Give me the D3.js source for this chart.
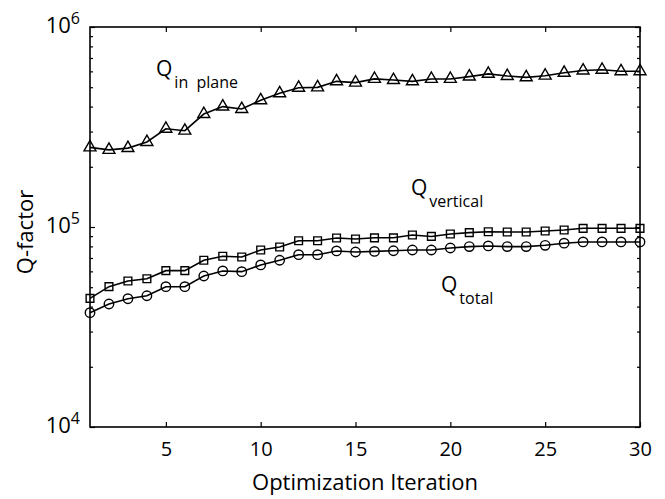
<!DOCTYPE html>
<html>
<head>
<meta charset="utf-8">
<script src="https://cdn.jsdelivr.net/npm/d3@7"></script>
<style>
  body { margin: 0; background: #fff; }
  svg text { font-family: "Open Sans", "Noto Sans", sans-serif; fill: #000; }
</style>
</head>
<body>
<div id="chart"></div>
<script>
const iterations = d3.range(1, 31);

const qInPlane = [250000, 243000, 248000, 266000, 310000, 303000, 367000, 400000, 389000, 430000,
                  466000, 497000, 499000, 535000, 527000, 550000, 543000, 535000, 550000, 550000,
                  565000, 583000, 569000, 560000, 571000, 590000, 606000, 611000, 601000, 601000];

const qVertical = [44000, 50300, 53700, 55100, 60500, 60500, 68200, 71400, 70800, 76700,
                   79400, 85400, 85400, 88100, 87100, 88300, 88300, 91200, 89700, 92300,
                   93700, 94700, 94400, 94400, 95500, 96600, 98500, 98500, 98500, 98500];

const qTotal = [37300, 41200, 43800, 45300, 50300, 50300, 56900, 60300, 59800, 64600,
                68200, 72700, 72700, 75900, 75000, 75500, 76100, 76700, 76700, 78500,
                79800, 80400, 79800, 79800, 81000, 83000, 84200, 84200, 84200, 84200];

const xTicks = [5, 10, 15, 20, 25, 30];
const yMajor = [1e4, 1e5, 1e6];
const yMinor = [];
[1e4, 1e5].forEach(d => { for (let k = 2; k <= 9; k++) yMinor.push(d * k); });

const width = 665, height = 499;
const margin = { top: 27, right: 25, bottom: 72, left: 90 };

const svg = d3.select("#chart").append("svg")
    .attr("width", width)
    .attr("height", height);

const xScale = d3.scaleLinear()
    .domain([1, 30])
    .range([margin.left, width - margin.right]);

const yScale = d3.scaleLog()
    .domain([1e4, 1e6])
    .range([height - margin.bottom, margin.top]);

const x0 = margin.left, x1 = width - margin.right;
const y0 = height - margin.bottom, y1 = margin.top;

// axes (ticks point inward, on all four sides)
const styleAxis = g => {
    g.select(".domain").remove();
    g.selectAll(".tick line").attr("stroke", "#000").attr("stroke-width", 1.2);
};

svg.append("g")
    .attr("transform", `translate(0,${y0})`)
    .call(d3.axisBottom(xScale).tickValues(xTicks).tickSize(-5).tickPadding(15))
    .call(styleAxis)
    .call(g => g.selectAll(".tick text").attr("font-size", 20));

svg.append("g")
    .attr("transform", `translate(0,${y1})`)
    .call(d3.axisTop(xScale).tickValues(xTicks).tickSize(-5).tickFormat(""))
    .call(styleAxis);

svg.append("g")
    .attr("transform", `translate(${x0},0)`)
    .call(d3.axisLeft(yScale).tickValues(yMajor).tickSize(-5).tickFormat(""))
    .call(styleAxis);

svg.append("g")
    .attr("transform", `translate(${x0},0)`)
    .call(d3.axisLeft(yScale).tickValues(yMinor).tickSize(-3).tickFormat(""))
    .call(styleAxis);

svg.append("g")
    .attr("transform", `translate(${x1},0)`)
    .call(d3.axisRight(yScale).tickValues(yMajor).tickSize(-5).tickFormat(""))
    .call(styleAxis);

svg.append("g")
    .attr("transform", `translate(${x1},0)`)
    .call(d3.axisRight(yScale).tickValues(yMinor).tickSize(-3).tickFormat(""))
    .call(styleAxis);

// y tick labels as 10^n
const yLabels = svg.append("g")
    .selectAll("text")
    .data(yMajor)
    .join("text")
    .attr("x", x0 - 10)
    .attr("y", d => yScale(d) + 6)
    .attr("text-anchor", "end")
    .attr("font-size", 22);
yLabels.append("tspan").text("10");
yLabels.append("tspan")
    .attr("dy", -9)
    .attr("font-size", 16)
    .text(d => Math.round(Math.log10(d)));

// frame
svg.append("rect")
    .attr("x", x0).attr("y", y1)
    .attr("width", x1 - x0).attr("height", y0 - y1)
    .attr("fill", "none")
    .attr("stroke", "#000")
    .attr("stroke-width", 1.6);

// series
const series = [
    { name: "inPlane", values: qInPlane, symbol: d3.symbolTriangle, size: 62 },
    { name: "vertical", values: qVertical, symbol: d3.symbolSquare, size: 60 },
    { name: "total", values: qTotal, symbol: d3.symbolCircle, size: 70 }
];

const line = d3.line()
    .x((d, i) => xScale(iterations[i]))
    .y(d => yScale(d));

series.forEach(s => {
    svg.append("path")
        .datum(s.values)
        .attr("fill", "none")
        .attr("stroke", "#000")
        .attr("stroke-width", 1.6)
        .attr("d", line);

    svg.append("g")
        .selectAll("path")
        .data(s.values)
        .join("path")
        .attr("transform", (d, i) => `translate(${xScale(iterations[i])},${yScale(d)})`)
        .attr("d", d3.symbol(s.symbol, s.size))
        .attr("fill", "none")
        .attr("stroke", "#000")
        .attr("stroke-width", 1.4);
});

// annotations
const annotations = [
    { main: "Q", sub: "in  plane", x: 156, y: 76 },
    { main: "Q", sub: "vertical", x: 411, y: 195 },
    { main: "Q", sub: "total", x: 441, y: 292 }
];

const ann = svg.append("g")
    .selectAll("text")
    .data(annotations)
    .join("text")
    .attr("x", d => d.x)
    .attr("y", d => d.y)
    .attr("font-size", 21)
    .attr("xml:space", "preserve")
    .style("white-space", "pre");
ann.append("tspan").text(d => d.main);
ann.append("tspan")
    .attr("dx", 2)
    .attr("dy", 12)
    .attr("font-size", 16)
    .text(d => d.sub);

// axis titles
svg.append("text")
    .attr("x", (x0 + x1) / 2)
    .attr("y", 490)
    .attr("text-anchor", "middle")
    .attr("font-size", 22)
    .text("Optimization Iteration");

svg.append("text")
    .attr("transform", `translate(33,232) rotate(-90)`)
    .attr("text-anchor", "middle")
    .attr("font-size", 22)
    .text("Q-factor");
</script>
</body>
</html>
